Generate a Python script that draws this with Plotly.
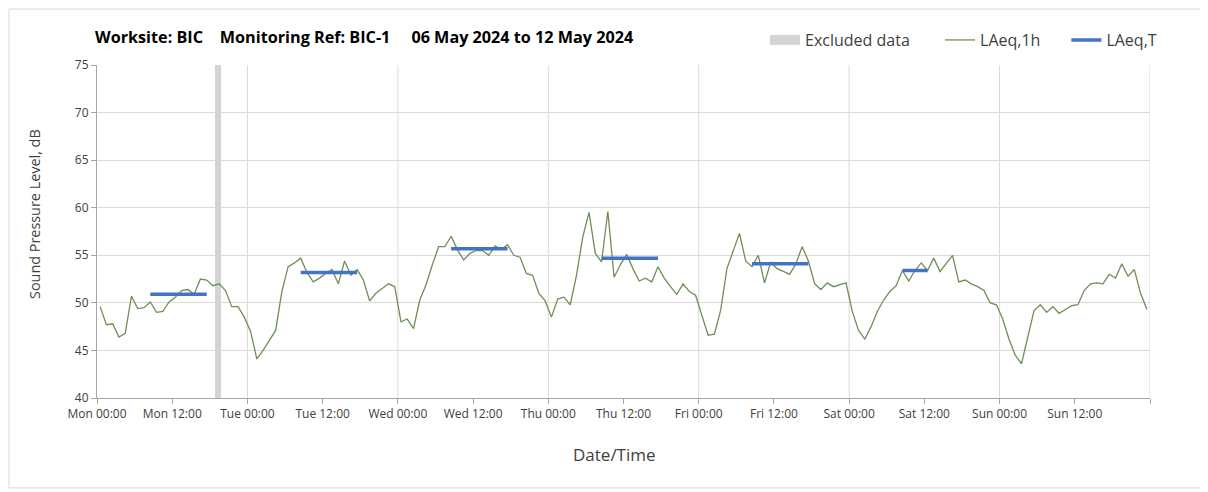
import pandas as pd
import plotly.graph_objects as go

# hourly LAeq,1h readings, Mon 06 May 2024 00:00 -> Sun 12 May 2024 23:00
laeq_1h = [
    49.6, 47.7, 47.8, 46.4, 46.8, 50.7, 49.4, 49.5, 50.1, 49.0, 49.1, 50.1,
    50.6, 51.3, 51.4, 50.9, 52.5, 52.4, 51.8, 52.0, 51.3, 49.6, 49.6, 48.5,
    47.0, 44.1, 45.0, 46.0, 47.1, 51.2, 53.8, 54.2, 54.7, 53.2, 52.2, 52.6,
    53.1, 53.5, 52.0, 54.4, 52.9, 53.5, 52.4, 50.2, 51.0, 51.5, 52.0, 51.7,
    48.0, 48.3, 47.3, 50.3, 51.9, 54.0, 55.9, 55.9, 57.0, 55.6, 54.5, 55.2,
    55.5, 55.5, 55.0, 56.0, 55.6, 56.1, 55.0, 54.8, 53.1, 52.9, 51.0, 50.2,
    48.5, 50.4, 50.6, 49.8, 52.9, 56.9, 59.5, 55.2, 54.3, 59.6, 52.7, 54.0,
    55.1, 53.6, 52.3, 52.6, 52.2, 53.8, 52.6, 51.7, 50.9, 52.0, 51.2, 50.8,
    48.7, 46.6, 46.7, 49.2, 53.6, 55.5, 57.3, 54.4, 53.8, 55.0, 52.1, 54.3,
    53.6, 53.3, 53.0, 54.1, 55.9, 54.4, 52.0, 51.4, 52.1, 51.7, 51.9, 52.1,
    49.1, 47.1, 46.2, 47.5, 49.1, 50.3, 51.2, 51.8, 53.4, 52.3, 53.4, 54.2,
    53.4, 54.7, 53.3, 54.2, 55.0, 52.2, 52.4, 52.0, 51.7, 51.3, 50.0, 49.8,
    48.3, 46.2, 44.5, 43.6, 46.4, 49.2, 49.8, 49.0, 49.6, 48.9, 49.3, 49.7,
    49.8, 51.3, 52.0, 52.1, 52.0, 53.0, 52.6, 54.1, 52.8, 53.5, 51.0, 49.3,
]

# LAeq,T over the working periods
period_days = ["2024-05-06", "2024-05-07", "2024-05-08", "2024-05-09", "2024-05-10", "2024-05-11"]
period_start = ["08:00", "08:00", "08:00", "08:00", "08:00", "08:00"]
period_end = ["18:00", "18:00", "18:00", "18:00", "18:00", "13:00"]
laeq_t = [50.9, 53.2, 55.7, 54.7, 54.1, 53.4]

excluded_start = ["2024-05-06 18:45"]
excluded_end = ["2024-05-06 19:45"]

tick_labels = ["Mon 00:00", "Mon 12:00", "Tue 00:00", "Tue 12:00", "Wed 00:00", "Wed 12:00",
               "Thu 00:00", "Thu 12:00", "Fri 00:00", "Fri 12:00", "Sat 00:00", "Sat 12:00",
               "Sun 00:00", "Sun 12:00", ""]

hours = pd.date_range("2024-05-06 00:00", periods=len(laeq_1h), freq="h")
half = pd.Timedelta(minutes=30)
x_mid = hours + half  # points sit in the middle of each hour
t0 = hours[0]
t_end = t0 + pd.Timedelta(days=7)
tickvals = pd.date_range(t0, t_end, freq="12h")

GREY = "#d4d4d4"
fig = go.Figure()

ex_s = pd.to_datetime(excluded_start)
ex_e = pd.to_datetime(excluded_end)
fig.add_trace(go.Bar(x=ex_s + (ex_e - ex_s) / 2, y=[35] * len(ex_s), base=40,
                     width=[(e - s).total_seconds() * 1000 for s, e in zip(ex_s, ex_e)],
                     marker=dict(color=GREY, line_width=0), showlegend=False,
                     hoverinfo="skip"))
# legend key for the excluded band
fig.add_trace(go.Scatter(x=[None], y=[None], mode="lines", name="Excluded data",
                         line=dict(color=GREY, width=10), legend="legend"))

fig.add_trace(go.Scatter(x=x_mid, y=laeq_1h, mode="lines", name="LAeq,1h",
                         line=dict(color="#6f8f55", width=1.3), legend="legend2"))

for i, (d, s, e, v) in enumerate(zip(period_days, period_start, period_end, laeq_t)):
    xs = pd.Timestamp(f"{d} {s}") + half
    xe = pd.Timestamp(f"{d} {e}") - half
    fig.add_trace(go.Scatter(x=[xs, xe], y=[v, v], mode="lines", name="LAeq,T",
                             line=dict(color="#4472c4", width=3.5),
                             showlegend=(i == 0), legendgroup="t", legend="legend3"))

# vertical gridlines at each midnight
for d in pd.date_range(t0, t_end, freq="D")[1:]:
    fig.add_vline(x=d, line_color="#d9d9d9", line_width=1, layer="below")

fig.add_shape(type="rect", xref="paper", yref="paper", x0=-0.0836, x1=1.052, y0=-0.27, y1=1.168,
              line=dict(color="#d9d9d9", width=1), layer="below")

# axis titles placed as in the original
fig.add_annotation(text="Sound Pressure Level, dB", xref="paper", yref="paper",
                   x=-0.0589, y=0.5526, xanchor="center", yanchor="middle", textangle=-90,
                   showarrow=False, font=dict(size=14.4, color="#404040"))
fig.add_annotation(text="Date/Time", xref="paper", yref="paper",
                   x=0.491, y=-0.171, xanchor="center", yanchor="middle",
                   showarrow=False, font=dict(size=17, color="#404040"))

leg = dict(orientation="h", xanchor="left", y=1.075, yanchor="middle",
           font=dict(size=16, color="#404040"), bgcolor="rgba(0,0,0,0)", itemwidth=30)

fig.update_layout(
    width=1200, height=484,
    margin=dict(l=89, r=58, t=57, b=94),
    plot_bgcolor="white", paper_bgcolor="white",
    font=dict(family="Open Sans", color="#404040"),
    title=dict(text="<b>Worksite: BIC\u00a0\u00a0\u00a0 Monitoring Ref: BIC-1\u00a0\u00a0\u00a0\u00a0 06 May 2024 to 12 May 2024</b>",
               x=87 / 1200, xref="container", xanchor="left",
               y=1 - 29 / 484, yref="container", yanchor="middle",
               font=dict(size=16.2, color="#000000")),
    legend=dict(leg, x=0.6344),
    legend2=dict(leg, x=0.8006),
    legend3=dict(leg, x=0.9206),
    bargap=0,
    showlegend=True,
)

fig.update_xaxes(type="date", range=[t0, t_end], tickvals=tickvals, ticktext=tick_labels,
                 showgrid=False, showline=True, linecolor="#a6a6a6", linewidth=1,
                 ticks="outside", ticklen=5, tickcolor="#a6a6a6",
                 tickfont=dict(size=12, color="#404040"))

fig.update_yaxes(range=[40, 75], dtick=5, showgrid=True, gridcolor="#d9d9d9",
                 showline=True, linecolor="#a6a6a6", linewidth=1, zeroline=False,
                 ticks="outside", ticklen=5, tickcolor="#a6a6a6",
                 tickfont=dict(size=12, color="#404040"))

fig.write_html("out.html")
